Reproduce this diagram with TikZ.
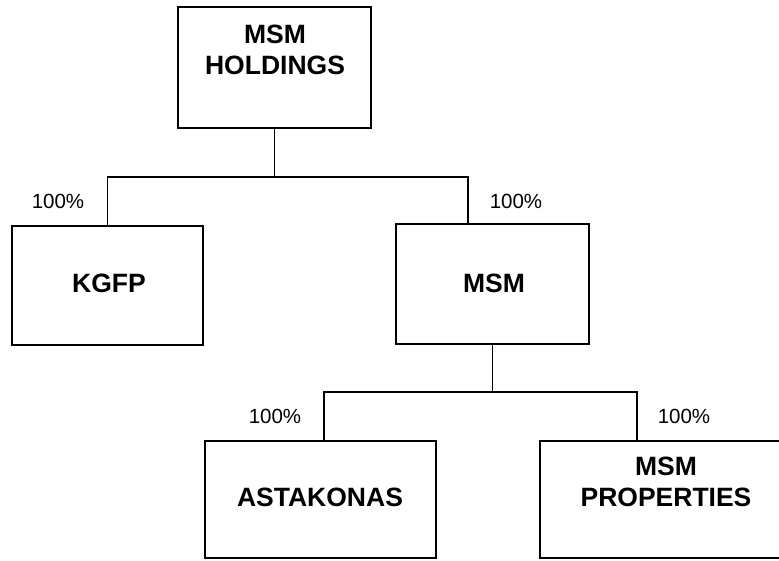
\documentclass[tikz,border=0pt]{standalone}
\usepackage{fontspec}
\setmainfont{Liberation Sans}
\usetikzlibrary{calc}

\tikzset{
  entity/.style={draw, line width=1.8pt, line join=miter, inner sep=0pt},
  entname/.style={align=center, inner sep=0pt, font=\fontsize{26.5}{31}\selectfont\bfseries},
  share/.style={inner sep=0pt, font=\fontsize{20.5}{24}\selectfont},
}

\begin{document}
\begin{tikzpicture}[line width=1.8pt, line cap=rect, x=1pt, y=-1pt]
  \useasboundingbox[fill=white] (0,0) rectangle (779,560);
  \clip (0,0) rectangle (779,560);
  % --- parent ---
  \node[entity, minimum width=193pt, minimum height=121pt] (hold) at (274.5,67.5) {};
  \node[entname] (holdtxt) at (275,50) {MSM\\HOLDINGS};
  % --- first level ---
  \node[entity, minimum width=191pt, minimum height=119pt] (kgfp) at (107.5,285.5) {};
  \node[entname] (kgfptxt) at (109,283) {KGFP};
  \node[entity, minimum width=193pt, minimum height=120pt] (msm) at (492.5,284) {};
  \node[entname] (msmtxt) at (494,283) {MSM};
  % --- second level ---
  \node[entity, minimum width=231pt, minimum height=117pt] (asta) at (320.5,499.5) {};
  \node[entname] (astatxt) at (320,497) {ASTAKONAS};
  \node[entity, minimum width=252pt, minimum height=117pt] (props) at (666,499.5) {};
  \node[entname] (propstxt) at (666,482) {MSM\\PROPERTIES};
  % --- holdings ---
  \coordinate (j1) at (274.5,177);
  \coordinate (msmtop) at (468,224);
  \draw (hold.south) -- (j1);
  \draw (kgfp.north) |- (j1) -| (msmtop);
  \node[share] (pkgfp) at (58,201) {100\%};
  \node[share] (pmsm) at (516,201) {100\%};
  % --- subsidiaries of MSM ---
  \coordinate (j2) at (492.5,392);
  \coordinate (astatop) at (324,441);
  \coordinate (propstop) at (637,441);
  \draw (msm.south) -- (j2);
  \draw (astatop) |- (j2) -| (propstop);
  \node[share] (pasta) at (275,416) {100\%};
  \node[share] (pprops) at (684,416) {100\%};
\end{tikzpicture}
\end{document}
